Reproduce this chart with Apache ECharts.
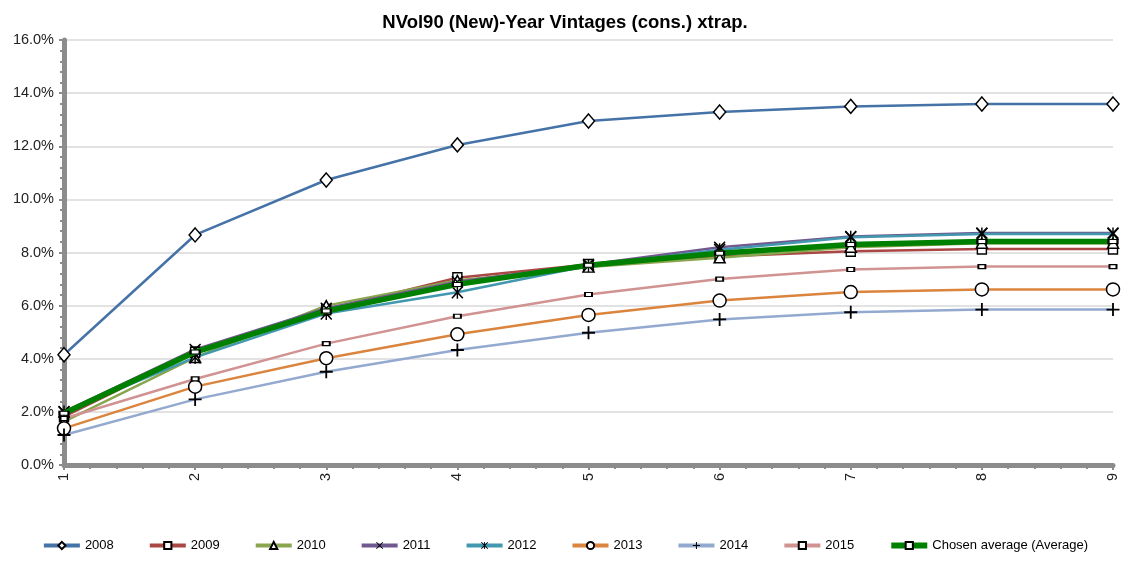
<!DOCTYPE html>
<html>
<head>
<meta charset="utf-8">
<script src="https://cdn.jsdelivr.net/npm/echarts@6/dist/echarts.min.js"></script>
<style>html,body{margin:0;padding:0;background:#fff}#c{width:1130px;height:561px}</style>
</head>
<body>
<div id="c"></div>
<script>
var xValues = [1, 2, 3, 4, 5, 6, 7, 8, 9];
var yTicks = [0, 2, 4, 6, 8, 10, 12, 14, 16];
var seriesNames = ['2008', '2009', '2010', '2011', '2012', '2013', '2014', '2015', 'Chosen average (Average)'];
var s2008 = [4.15, 8.66, 10.73, 12.05, 12.95, 13.29, 13.50, 13.59, 13.59];
var s2009 = [1.82, 4.25, 5.85, 7.05, 7.55, 7.85, 8.05, 8.13, 8.13];
var s2010 = [1.63, 4.05, 6.00, 6.95, 7.45, 7.80, 8.20, 8.35, 8.35];
var s2011 = [2.00, 4.35, 5.90, 6.90, 7.55, 8.20, 8.60, 8.73, 8.73];
var s2012 = [2.00, 4.05, 5.70, 6.50, 7.50, 8.10, 8.57, 8.70, 8.70];
var s2013 = [1.38, 2.95, 4.02, 4.92, 5.65, 6.19, 6.51, 6.61, 6.61];
var s2014 = [1.13, 2.47, 3.51, 4.33, 4.98, 5.48, 5.75, 5.85, 5.85];
var s2015 = [1.75, 3.24, 4.57, 5.60, 6.42, 7.00, 7.36, 7.47, 7.47];
var sAvg  = [1.95, 4.25, 5.80, 6.80, 7.52, 7.97, 8.30, 8.41, 8.41];

var allValues = [s2008, s2009, s2010, s2011, s2012, s2013, s2014, s2015, sAvg];
var colors = ['#4572A7', '#AA4643', '#89A54E', '#71588F', '#4198AF', '#DB843D', '#93A9CF', '#D19392', '#008000'];

var X_PATH = 'path://M0,0.9L0.9,0L5,4.1L9.1,0L10,0.9L5.9,5L10,9.1L9.1,10L5,5.9L0.9,10L0,9.1L4.1,5Z';
var STAR_PATH = 'path://M0,0.9L0.9,0L4.4,3.5V0H5.6V3.5L9.1,0L10,0.9L5.9,5L10,9.1L9.1,10L5.6,6.5V10H4.4V6.5L0.9,10L0,9.1L4.1,5Z';
var PLUS_PATH = 'path://M4.3,0H5.7V4.3H10V5.7H5.7V10H4.3V5.7H0V4.3H4.3Z';

var markers = [
  {symbol: 'diamond', size: [12, 14], fill: true},
  {symbol: 'rect', size: [9, 10], fill: true},
  {symbol: 'triangle', size: [11, 10], fill: true},
  {symbol: X_PATH, size: [12, 12], fill: false},
  {symbol: STAR_PATH, size: [12, 13], fill: false},
  {symbol: 'circle', size: 13, fill: true},
  {symbol: PLUS_PATH, size: [13, 13], fill: false},
  {symbol: 'rect', size: [7, 4], fill: true},
  {symbol: 'rect', size: [9, 4], fill: true}
];

var series = seriesNames.map(function (name, i) {
  var m = markers[i];
  var isAvg = i === 8;
  return {
    name: name,
    type: 'line',
    data: xValues.map(function (x, j) { return [x, allValues[i][j]]; }),
    symbol: m.symbol,
    symbolSize: m.size,
    showAllSymbol: true,
    z: isAvg ? 5 : 2,
    lineStyle: {color: colors[i], width: isAvg ? 5.5 : 2.5},
    itemStyle: m.fill ? {color: '#ffffff', borderColor: '#000000', borderWidth: 1.5}
                      : {color: '#000000', borderWidth: 0},
    emphasis: {disabled: true},
    animation: false
  };
});

var legendData = seriesNames.map(function (name, i) {
  return {name: name, lineStyle: {width: i === 8 ? 6 : 4}};
});

var chart = echarts.init(document.getElementById('c'), null, {renderer: 'canvas'});
chart.setOption({
  backgroundColor: '#ffffff',
  animation: false,
  textStyle: {fontFamily: 'Liberation Sans, Arial, sans-serif'},
  title: {
    text: 'NVol90 (New)-Year Vintages (cons.) xtrap.',
    left: 'center',
    top: 8,
    textStyle: {fontSize: 18.5, fontWeight: 'bold', color: '#000', fontFamily: 'Liberation Sans, Arial, sans-serif'}
  },
  legend: {
    bottom: 4,
    left: 'center',
    itemWidth: 36,
    itemHeight: 9,
    itemGap: 34,
    textStyle: {fontSize: 13, color: '#000'},
    data: legendData
  },
  grid: {left: 64, right: 17, top: 40, bottom: 96, containLabel: false},
  xAxis: {
    type: 'value',
    min: 1,
    max: 9,
    interval: 1,
    axisLine: {show: true, lineStyle: {color: '#8c8c8c', width: 5}},
    axisTick: {show: true, length: 5, lineStyle: {color: '#8c8c8c', width: 2}},
    minorTick: {show: true, splitNumber: 5, length: 4, lineStyle: {color: '#8c8c8c', width: 2}},
    splitLine: {show: false},
    axisLabel: {rotate: 90, fontSize: 14.5, color: '#222', margin: 8,
      formatter: function (v) { return xValues.indexOf(v) >= 0 ? String(v) : ''; }}
  },
  yAxis: {
    type: 'value',
    min: yTicks[0],
    max: yTicks[yTicks.length - 1],
    interval: 2,
    axisLine: {show: true, lineStyle: {color: '#8c8c8c', width: 5}},
    axisTick: {show: true, length: 5, lineStyle: {color: '#8c8c8c', width: 2}},
    minorTick: {show: true, splitNumber: 5, length: 4, lineStyle: {color: '#8c8c8c', width: 2}},
    splitLine: {show: true, lineStyle: {color: '#d9d9d9', width: 1.5}},
    axisLabel: {fontSize: 14.5, color: '#222', margin: 10,
      formatter: function (v) { return v.toFixed(1) + '%'; }}
  },
  series: series
});
</script>
</body>
</html>
